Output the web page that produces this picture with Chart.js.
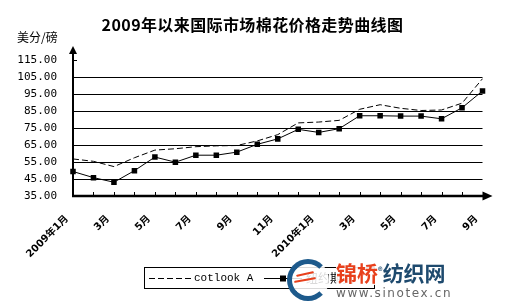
<!DOCTYPE html>
<html><head><meta charset="utf-8">
<script src="https://cdn.jsdelivr.net/npm/chart.js"></script>
<style>
html,body{margin:0;padding:0;background:#fff;}
#wrap{position:relative;width:508px;height:303px;overflow:hidden;background:#fff;}
#c{position:absolute;left:0;top:0;}
.t{position:absolute;white-space:nowrap;color:#000;}
#title{left:0;width:505px;top:14px;text-align:center;font:bold 16px "Noto Sans CJK SC","DejaVu Sans",sans-serif;letter-spacing:0.4px;line-height:20px;}
#unit{left:17px;top:29px;font:12px "Noto Sans CJK SC",sans-serif;line-height:16px;}
#logo{position:absolute;left:287px;top:259px;width:32px;height:32px;border:5px solid #1d5a8c;border-right-color:transparent;border-radius:50%;background:rgba(255,255,255,0.85);}
.sw{position:absolute;height:2px;background:#e8401c;border-radius:1px;}
#wm1{position:absolute;left:336px;top:259px;font:bold 21px "Noto Sans CJK SC",sans-serif;line-height:26px;background:rgba(255,255,255,0.9);white-space:nowrap;}
#wm2{position:absolute;left:336px;top:286px;font:12px "DejaVu Sans",sans-serif;letter-spacing:1.6px;color:#666;line-height:15px;white-space:nowrap;}
</style></head><body>
<div id="wrap">
<canvas id="c" width="508" height="303"></canvas>
<div id="title" class="t"></div>
<div id="unit" class="t"></div>
<div id="logo"><div class="sw" style="left:4px;top:9px;width:18px;transform:rotate(-12deg)"></div><div class="sw" style="left:2px;top:15px;width:22px;transform:rotate(-10deg)"></div></div>
<div id="wm1"><span style="color:#e8401c">锦桥</span><span style="font-size:9px;vertical-align:top;color:#1e4a6e">®</span><span style="color:#1e4a6e">纺织网</span></div>
<div id="wm2">www.sinotex.cn</div>
</div>
<script>
const titleText = '2009年以来国际市场棉花价格走势曲线图';
const unitText = '美分/磅';
const months = ['2009年1月','2月','3月','4月','5月','6月','7月','8月','9月','10月','11月','12月',
                '2010年1月','2月','3月','4月','5月','6月','7月','8月','9月'];
const seriesNames = ['cotlook A','纽约期货'];
const cotlookA  = [56.8,55.4,52.3,57.5,62.0,62.8,64.0,64.5,64.7,67.4,71.1,78.0,78.5,79.5,86.0,88.7,86.6,85.3,85.6,89.6,104.0];
const nyFutures = [49.4,45.8,43.1,49.9,57.9,54.9,59.0,59.0,60.8,65.4,68.6,74.2,72.4,74.6,82.2,82.2,82.0,82.0,80.4,86.9,96.8];
const yMin = 35, yMax = 115, yStep = 10;

document.getElementById('title').textContent = titleText;
document.getElementById('unit').textContent = unitText;

const axesPlugin = {
  id:'axesPlugin',
  afterDraw(chart){
    const ctx = chart.ctx, a = chart.chartArea;
    const xs = chart.scales.x, ys = chart.scales.y;
    ctx.save();
    ctx.strokeStyle = '#000'; ctx.fillStyle = '#000';
    ctx.lineWidth = 1;
    for (let i = 0; i < months.length; i++) {
      const px = Math.round(xs.getPixelForValue(i)) + 0.5;
      ctx.beginPath(); ctx.moveTo(px, a.bottom); ctx.lineTo(px, a.bottom - 4); ctx.stroke();
    }
    const ty = Math.round(ys.getPixelForValue(yMax)) + 0.5;
    ctx.beginPath(); ctx.moveTo(a.left, ty); ctx.lineTo(a.left + 4, ty); ctx.stroke();
    ctx.lineWidth = 2;
    ctx.beginPath(); ctx.moveTo(a.left, a.bottom + 1); ctx.lineTo(a.left, a.top - 8); ctx.stroke();
    ctx.beginPath(); ctx.moveTo(a.left, a.top - 14); ctx.lineTo(a.left - 4, a.top - 6); ctx.lineTo(a.left + 4, a.top - 6); ctx.closePath(); ctx.fill();
    ctx.lineWidth = 2.5;
    ctx.beginPath(); ctx.moveTo(a.left - 1, a.bottom); ctx.lineTo(a.right + 3, a.bottom); ctx.stroke();
    ctx.beginPath(); ctx.moveTo(a.right + 10, a.bottom); ctx.lineTo(a.right, a.bottom - 4.5); ctx.lineTo(a.right, a.bottom + 4.5); ctx.closePath(); ctx.fill();
    const ds = chart.data.datasets;
    ctx.lineWidth = 1;
    ctx.strokeRect(144.5, 267.5, 230, 21);
    const ly = 278.5;
    ctx.setLineDash(ds[0].borderDash);
    ctx.beginPath(); ctx.moveTo(149, ly); ctx.lineTo(191, ly); ctx.stroke();
    ctx.setLineDash([]);
    ctx.font = '11px "Liberation Mono", monospace';
    ctx.textBaseline = 'middle'; ctx.textAlign = 'left';
    ctx.fillText(ds[0].label, 194, ly);
    ctx.beginPath(); ctx.moveTo(264, ly); ctx.lineTo(302, ly); ctx.stroke();
    ctx.fillRect(280, ly - 3, 6, 6);
    ctx.font = '12px "Noto Sans CJK SC", sans-serif';
    ctx.fillText(ds[1].label, 306, ly);
    ctx.restore();
  }
};

new Chart(document.getElementById('c').getContext('2d'), {
  type:'line',
  data:{
    labels: months,
    datasets:[
      {label:seriesNames[0], data:cotlookA, borderColor:'#000', borderWidth:1, borderDash:[6,3],
       pointRadius:0, tension:0, fill:false},
      {label:seriesNames[1], data:nyFutures, borderColor:'#000', borderWidth:1, pointStyle:'rect',
       pointRadius:3.9, pointBorderWidth:0, pointBackgroundColor:'#000', pointBorderColor:'#000', tension:0, fill:false}
    ]
  },
  options:{
    responsive:false, animation:false, devicePixelRatio:1,
    layout:{padding:{left:0, right:17, top:60, bottom:0}},
    plugins:{legend:{display:false}, title:{display:false}, tooltip:{enabled:false}},
    scales:{
      x:{
        type:'category', offset:false,
        grid:{display:false, drawTicks:false},
        border:{display:false},
        ticks:{autoSkip:false, maxRotation:45, minRotation:45, padding:17, labelOffset:-6, color:'#000',
               font:{size:10, weight:'bold', family:'"DejaVu Sans","Noto Sans CJK SC",sans-serif'},
               callback:(v,i)=> i % 2 === 0 ? months[i] : ''},
        afterFit:(s)=>{ s.height = 107; }
      },
      y:{
        min:yMin, max:yMax,
        ticks:{stepSize:yStep, padding:16, color:'#000',
               font:{size:11, family:'"DejaVu Sans Mono", monospace'},
               callback:(v)=> Number(v).toFixed(2)},
        grid:{drawTicks:false, lineWidth:1,
              color:(c)=> (c.tick && (c.tick.value === yMax || c.tick.value === yMin)) ? 'rgba(0,0,0,0)' : '#000'},
        border:{display:false},
        afterFit:(s)=>{ s.width = 73; }
      }
    }
  },
  plugins:[axesPlugin]
});
</script>
</body></html>
